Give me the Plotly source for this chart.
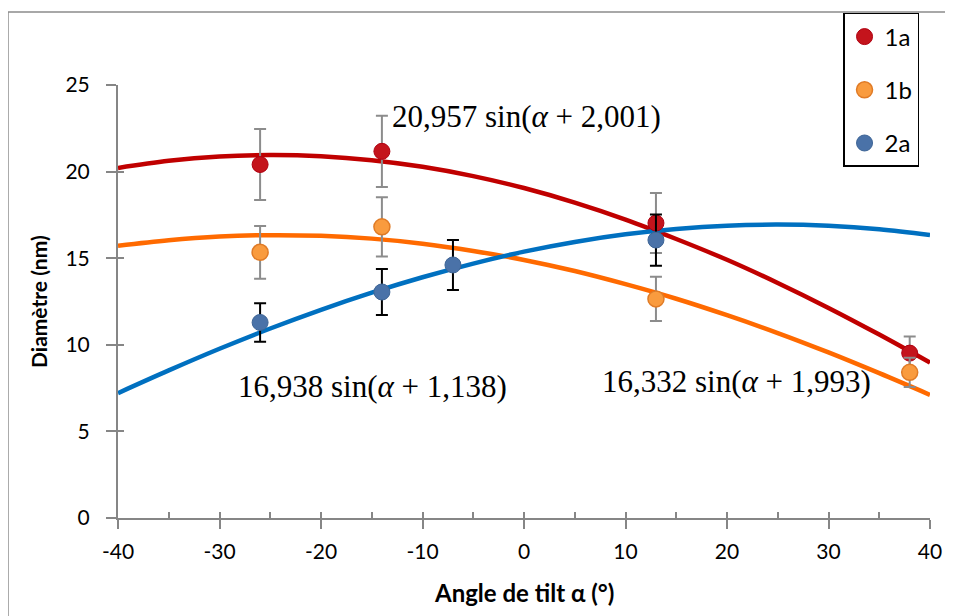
import plotly.graph_objects as go

# ---- data ----
angles_1a = [-26, -14, 13, 38]
diam_1a = [20.41, 21.17, 17.03, 9.52]
err_1a = [2.05, 2.06, 1.73, 0.96]

angles_1b = [-26, -14, 13, 38]
diam_1b = [15.34, 16.81, 12.65, 8.41]
err_1b = [1.52, 1.71, 1.28, 0.84]

angles_2a = [-26, -14, -7, 13]
diam_2a = [11.29, 13.05, 14.61, 16.05]
err_2a = [1.11, 1.33, 1.44, 1.48]

# trend curves
fit_x = [-40, -35, -30, -25, -20, -15, -10, -5, 0, 5, 10, 15, 20, 25, 30, 35, 40]
fit_1a = [20.21, 20.62, 20.87, 20.96, 20.89, 20.66, 20.28, 19.74, 19.05, 18.21,
          17.23, 16.11, 14.91, 13.57, 12.13, 10.59, 8.97]
fit_1b = [15.72, 16.04, 16.25, 16.33, 16.29, 16.13, 15.84, 15.42, 14.90, 14.26,
          13.50, 12.66, 11.71, 10.68, 9.56, 8.36, 7.11]
fit_2a = [7.21, 8.52, 9.77, 10.94, 12.02, 13.01, 13.90, 14.69, 15.38, 15.94,
          16.38, 16.69, 16.88, 16.94, 16.87, 16.67, 16.34]

eq_1a = "20,957 sin(<i>α</i> + 2,001)"
eq_1b = "16,332 sin(<i>α</i> + 1,993)"
eq_2a = "16,938 sin(<i>α</i> + 1,138)"

x_ticks = [-40, -30, -20, -10, 0, 10, 20, 30, 40]
x_labels = ["-40", "-30", "-20", "-10", "0", "10", "20", "30", "40"]
x_minor = [-40, -35, -30, -25, -20, -15, -10, -5, 0, 5, 10, 15, 20, 25, 30, 35, 40]
y_ticks = [0, 5, 10, 15, 20, 25]
y_labels = ["0", "5", "10", "15", "20", "25"]

FONT = "Lato"
SERIF = "Liberation Serif"
axis_color = "#868686"

fig = go.Figure()

# fit lines
fig.add_trace(go.Scatter(x=fit_x, y=fit_1a, mode="lines", line=dict(color="#C00000", width=4.5, shape="spline"),
                         showlegend=False, hoverinfo="skip"))
fig.add_trace(go.Scatter(x=fit_x, y=fit_1b, mode="lines", line=dict(color="#FF6A00", width=4.5, shape="spline"),
                         showlegend=False, hoverinfo="skip"))
fig.add_trace(go.Scatter(x=fit_x, y=fit_2a, mode="lines", line=dict(color="#0070C0", width=4.5, shape="spline"),
                         showlegend=False, hoverinfo="skip"))

# data points
fig.add_trace(go.Scatter(x=angles_1a, y=diam_1a, mode="markers", name="1a", legendgroup="a",
                         marker=dict(size=16, color="#C4141C", line=dict(color="#B00010", width=1)),
                         error_y=dict(type="data", array=err_1a, color="#8C8C8C", thickness=2, width=6)))
fig.add_trace(go.Scatter(x=angles_1b, y=diam_1b, mode="markers", name="1b", legendgroup="b",
                         marker=dict(size=16, color="#F99B3E", line=dict(color="#E07B26", width=1.5)),
                         error_y=dict(type="data", array=err_1b, color="#8C8C8C", thickness=2, width=6)))
fig.add_trace(go.Scatter(x=angles_2a, y=diam_2a, mode="markers", name="2a", legendgroup="c",
                         marker=dict(size=16, color="#4A72A8", line=dict(color="#3E6596", width=1)),
                         error_y=dict(type="data", array=err_2a, color="#000000", thickness=2, width=6)))

# invisible trace on overlay axes (carries the inner halves of the crossing ticks)
fig.add_trace(go.Scatter(x=[x_minor[0]], y=[y_ticks[0]], xaxis="x2", yaxis="y2", mode="markers",
                         marker=dict(opacity=0), showlegend=False, hoverinfo="skip"))

# the page body adds an 8px offset; margins compensate so the plot lands where the reference has it
fig.update_layout(
    xaxis=dict(range=[-40, 40], tickvals=x_ticks, ticktext=x_labels, showgrid=False, zeroline=False,
               showline=True, linecolor=axis_color, linewidth=2,
               ticks="outside", ticklen=9, tickwidth=2, tickcolor=axis_color,
               tickfont=dict(family=FONT, size=21, color="black"), ticklabelstandoff=5),
    yaxis=dict(range=[0, 25], tickvals=y_ticks, ticktext=y_labels, showgrid=False, zeroline=False,
               showline=True, linecolor=axis_color, linewidth=2,
               ticks="outside", ticklen=10, tickwidth=2, tickcolor=axis_color,
               tickfont=dict(family=FONT, size=21, color="black"), ticklabelstandoff=12),
    xaxis2=dict(range=[-40, 40], overlaying="x", anchor="y2", side="bottom", tickvals=x_minor,
                showticklabels=False, ticks="inside", ticklen=6, tickwidth=2, tickcolor=axis_color,
                showgrid=False, zeroline=False, showline=False),
    yaxis2=dict(range=[0, 25], overlaying="y", anchor="x2", side="left", tickvals=y_ticks,
                showticklabels=False, ticks="inside", ticklen=6, tickwidth=2, tickcolor=axis_color,
                showgrid=False, zeroline=False, showline=False),
    width=953, height=616,
    margin=dict(l=110, r=31, t=77, b=106, autoexpand=False),
    paper_bgcolor="white", plot_bgcolor="white",
    legend=dict(x=0.8929, y=1.1663, xanchor="left", yanchor="top",
                bordercolor="black", borderwidth=1.5, bgcolor="white",
                font=dict(family=FONT, size=24, color="black"), tracegroupgap=19,
                itemwidth=30),
    shapes=[dict(type="rect", xref="paper", yref="paper", x0=-0.1355, x1=1.2, y0=-0.4, y1=1.1686,
                 line=dict(color="#8C8C8C", width=1.5), layer="below")],
)


def px(xp):
    return (xp - 118) / 812.0


def py(yp):
    return (518 - yp) / 433.0


for txt, cx, cy in [(eq_1a, 526, 117), (eq_2a, 372, 386), (eq_1b, 736, 381)]:
    fig.add_annotation(text=txt, x=px(cx), y=py(cy), xref="paper", yref="paper", showarrow=False,
                       font=dict(family=SERIF, size=31, color="black"), xanchor="center", yanchor="middle")
fig.add_annotation(text="<b>Diamètre (nm)</b>", x=px(38), y=py(302), xref="paper", yref="paper",
                   xanchor="center", yanchor="middle",
                   showarrow=False, textangle=-90, font=dict(family=FONT, size=21, color="black"))
fig.add_annotation(text="<b>Angle de tilt α (°)</b>", x=px(524), y=py(592), xref="paper", yref="paper",
                   xanchor="center", yanchor="middle",
                   showarrow=False, font=dict(family=FONT, size=24, color="black"))

fig.write_html("out.html")
